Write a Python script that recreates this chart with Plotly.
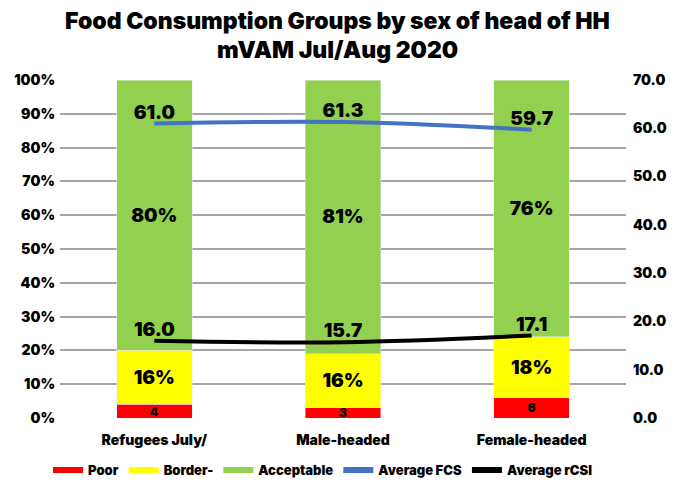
import plotly.graph_objects as go

groups = ["Refugees July/", "Male-headed", "Female-headed"]
poor = [4, 3, 6]
borderline = [16, 16, 18]
acceptable = [80, 81, 76]
avg_fcs = [61.0, 61.3, 59.7]
avg_rcsi = [16.0, 15.7, 17.1]

pct_ticks = [0, 10, 20, 30, 40, 50, 60, 70, 80, 90, 100]
num_ticks = [0, 10, 20, 30, 40, 50, 60, 70]

FAM = "Inter"
font = dict(family=FAM, color="black", size=14, weight=900)
big = dict(family=FAM, size=19, color="black", weight=900)

fig = go.Figure()

fig.add_bar(x=groups, y=poor, name="Poor", marker_color="#ff0000",
            text=[str(v) for v in poor], textposition="inside", textangle=0,
            insidetextanchor="middle", constraintext="none",
            textfont=dict(family=FAM, size=12, color="black", weight=900),
            showlegend=False)
fig.add_bar(x=groups, y=borderline, name="Border-", marker_color="#ffff00",
            text=[f"{v}%" for v in borderline], textposition="inside", textangle=0,
            insidetextanchor="middle", constraintext="none",
            textfont=big, showlegend=False)
fig.add_bar(x=groups, y=acceptable, name="Acceptable", marker_color="#92d050",
            text=[f"{v}%" for v in acceptable], textposition="inside", textangle=0,
            insidetextanchor="middle", constraintext="none",
            textfont=big, showlegend=False)

fig.add_scatter(x=groups, y=avg_fcs, name="Average FCS", yaxis="y2",
                mode="lines+text", line=dict(color="#4472c4", width=4, shape="spline"),
                text=[f"{v:.1f}" for v in avg_fcs], textposition="top center",
                textfont=big, showlegend=False, cliponaxis=False)
fig.add_scatter(x=groups, y=avg_rcsi, name="Average rCSI", yaxis="y2",
                mode="lines+text", line=dict(color="black", width=4, shape="spline"),
                text=[f"{v:.1f}" for v in avg_rcsi], textposition="top center",
                textfont=big, showlegend=False, cliponaxis=False)

# legend entries drawn as thick strokes like the original
for name, col in [("Poor", "#ff0000"), ("Border-", "#ffff00"), ("Acceptable", "#92d050"),
                  ("Average FCS", "#4472c4"), ("Average rCSI", "black")]:
    fig.add_scatter(x=[None], y=[None], mode="lines", name=name,
                    line=dict(color=col, width=6))

title_font = dict(family=FAM, size=23, color="black", weight=900)
fig.add_annotation(text="Food Consumption Groups by sex of head of HH",
                   xref="paper", yref="paper", x=0.49, y=1.175, xanchor="center",
                   yanchor="middle", showarrow=False, font=title_font)
fig.add_annotation(text="mVAM Jul/Aug 2020",
                   xref="paper", yref="paper", x=0.49, y=1.088, xanchor="center",
                   yanchor="middle", showarrow=False, font=title_font)

# page body has an 8px margin, so the figure is drawn 8px smaller than the window
fig.update_layout(
    width=667, height=475,
    barmode="stack", bargap=0.6,
    plot_bgcolor="white", paper_bgcolor="white",
    margin=dict(l=52, r=49, t=72, b=65, autoexpand=False),
    font=font,
    xaxis=dict(tickfont=font, showgrid=False, ticks="outside", ticklen=9,
               tickcolor="rgba(0,0,0,0)"),
    yaxis=dict(range=[0, 100], tickvals=pct_ticks,
               ticktext=[f"{v}%" for v in pct_ticks],
               showgrid=True, gridcolor="#a6a6a6", gridwidth=1.5,
               zeroline=False, tickfont=font, ticklabelstandoff=4),
    yaxis2=dict(range=[0, 70], tickvals=num_ticks,
                ticktext=[f"{v:.1f}" for v in num_ticks],
                overlaying="y", side="right", showgrid=False,
                zeroline=False, tickfont=font, ticklabelstandoff=6),
    legend=dict(orientation="h", xref="container", x=0.06, xanchor="left",
                y=-0.154, yanchor="middle", traceorder="normal",
                font=dict(family=FAM, size=13, color="black", weight=900),
                itemwidth=30, tracegroupgap=0),
)

fig.write_html("out.html")
